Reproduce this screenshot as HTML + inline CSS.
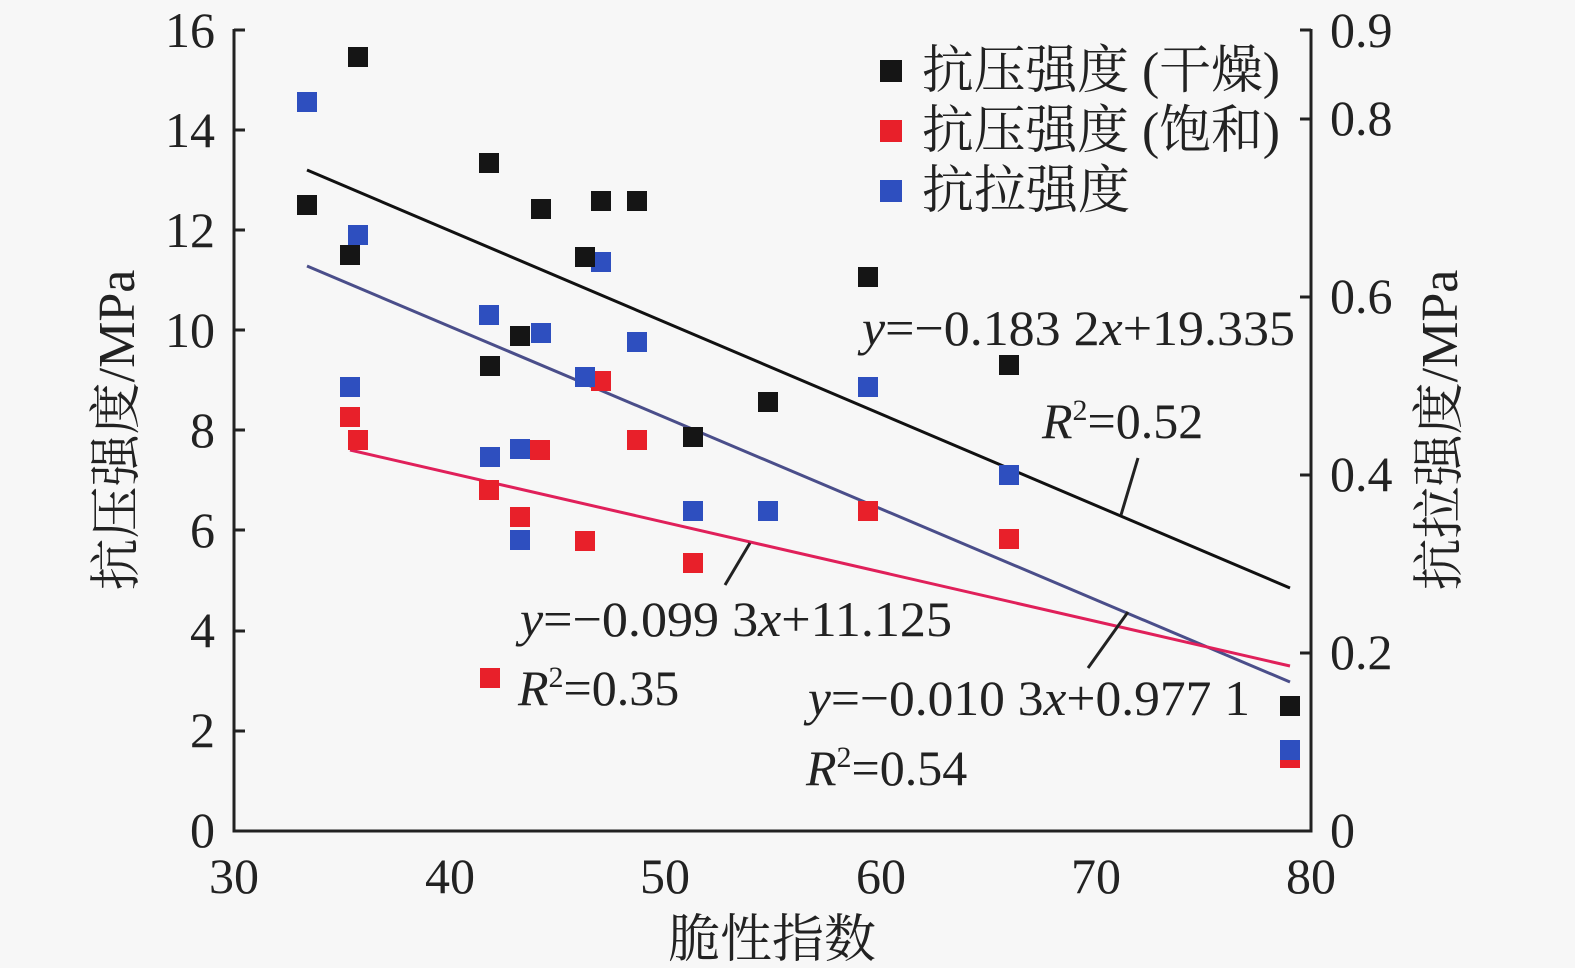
<!DOCTYPE html>
<html><head><meta charset="utf-8"><style>body{margin:0;background:#f7f7f7}svg{display:block}text{font-family:"Liberation Serif","Noto Serif CJK SC",serif;fill:#222}</style></head><body>
<svg width="1575" height="968" viewBox="0 0 1575 968">
<rect width="1575" height="968" fill="#f7f7f7"/>
<g stroke="#222" stroke-width="3" fill="none">
<path d="M234,29V831H1311V29"/>
<path d="M234,731h11M234,631h11M234,530h11M234,430h11M234,330h11M234,230h11M234,130h11M234,30h11"/>
<path d="M1311,653h-11M1311,475h-11M1311,297h-11M1311,119h-11M1311,30h-11"/>
</g>
<g font-size="50" text-anchor="end">
<text x="215" y="47">16</text><text x="215" y="147">14</text><text x="215" y="247">12</text><text x="215" y="347">10</text><text x="215" y="447">8</text><text x="215" y="547">6</text><text x="215" y="647">4</text><text x="215" y="747">2</text><text x="215" y="847">0</text>
</g>
<g font-size="50">
<text x="1330" y="47">0.9</text><text x="1330" y="135">0.8</text><text x="1330" y="313">0.6</text><text x="1330" y="491">0.4</text><text x="1330" y="669">0.2</text><text x="1330" y="847">0</text>
</g>
<g font-size="50" text-anchor="middle">
<text x="234" y="893">30</text><text x="450" y="893">40</text><text x="665" y="893">50</text><text x="881" y="893">60</text><text x="1096" y="893">70</text><text x="1311" y="893">80</text>
<text x="772" y="957" font-size="52">脆性指数</text>
<text transform="translate(134,430) rotate(-90)" font-size="52">抗压强度/MPa</text>
<text transform="translate(1457,430) rotate(-90)" font-size="52">抗拉强度/MPa</text>
</g>
<g stroke-width="3">
<line x1="307" y1="170" x2="1290" y2="588" stroke="#111"/>
<line x1="307" y1="266" x2="1290" y2="682" stroke="#4a4e8a"/>
<line x1="350" y1="450" x2="1290" y2="666" stroke="#e0205a"/>
<g stroke="#222"><line x1="1121" y1="515" x2="1138" y2="458"/><line x1="725" y1="585" x2="750" y2="543"/><line x1="1088" y1="668" x2="1128" y2="612"/></g>
</g>
<g fill="#e8202a">
<rect x="340" y="407" width="20" height="20"/><rect x="348" y="430" width="20" height="20"/><rect x="479" y="480" width="20" height="20"/><rect x="510" y="507" width="20" height="20"/><rect x="530" y="440" width="20" height="20"/><rect x="575" y="531" width="20" height="20"/><rect x="591" y="371" width="20" height="20"/><rect x="627" y="430" width="20" height="20"/><rect x="683" y="553" width="20" height="20"/><rect x="858" y="501" width="20" height="20"/><rect x="999" y="529" width="20" height="20"/><rect x="1280" y="748" width="20" height="20"/><rect x="480" y="668" width="20" height="20"/>
</g>
<g fill="#2e4fbf">
<rect x="297" y="92" width="20" height="20"/><rect x="348" y="225" width="20" height="20"/><rect x="340" y="377" width="20" height="20"/><rect x="479" y="305" width="20" height="20"/><rect x="480" y="447" width="20" height="20"/><rect x="510" y="439" width="20" height="20"/><rect x="510" y="530" width="20" height="20"/><rect x="531" y="323" width="20" height="20"/><rect x="575" y="367" width="20" height="20"/><rect x="591" y="252" width="20" height="20"/><rect x="627" y="332" width="20" height="20"/><rect x="683" y="501" width="20" height="20"/><rect x="758" y="501" width="20" height="20"/><rect x="858" y="377" width="20" height="20"/><rect x="999" y="465" width="20" height="20"/><rect x="1280" y="740" width="20" height="20"/>
</g>
<g fill="#151515">
<rect x="297" y="195" width="20" height="20"/><rect x="348" y="47" width="20" height="20"/><rect x="340" y="245" width="20" height="20"/><rect x="479" y="153" width="20" height="20"/><rect x="480" y="356" width="20" height="20"/><rect x="510" y="326" width="20" height="20"/><rect x="531" y="199" width="20" height="20"/><rect x="575" y="247" width="20" height="20"/><rect x="591" y="191" width="20" height="20"/><rect x="627" y="191" width="20" height="20"/><rect x="683" y="427" width="20" height="20"/><rect x="758" y="392" width="20" height="20"/><rect x="858" y="267" width="20" height="20"/><rect x="999" y="355" width="20" height="20"/><rect x="1280" y="696" width="20" height="20"/>
</g>
<rect x="880" y="60" width="22" height="22" fill="#151515"/>
<rect x="880" y="120" width="22" height="22" fill="#e8202a"/>
<rect x="880" y="180" width="22" height="22" fill="#2e4fbf"/>
<g font-size="52">
<text x="922" y="88" textLength="358" lengthAdjust="spacingAndGlyphs">抗压强度 (干燥)</text>
<text x="922" y="148" textLength="358" lengthAdjust="spacingAndGlyphs">抗压强度 (饱和)</text>
<text x="922" y="208">抗拉强度</text>
</g>
<g font-size="50">
<text x="862" y="345" textLength="433" lengthAdjust="spacingAndGlyphs"><tspan font-style="italic">y</tspan>=−0.183 2<tspan font-style="italic">x</tspan>+19.335</text>
<text x="1042" y="438"><tspan font-style="italic">R</tspan><tspan font-size="30" dy="-18">2</tspan><tspan dy="18">=0.52</tspan></text>
<text x="520" y="636" textLength="432" lengthAdjust="spacingAndGlyphs"><tspan font-style="italic">y</tspan>=−0.099 3<tspan font-style="italic">x</tspan>+11.125</text>
<text x="518" y="705"><tspan font-style="italic">R</tspan><tspan font-size="30" dy="-18">2</tspan><tspan dy="18">=0.35</tspan></text>
<text x="808" y="715" textLength="442" lengthAdjust="spacingAndGlyphs"><tspan font-style="italic">y</tspan>=−0.010 3<tspan font-style="italic">x</tspan>+0.977 1</text>
<text x="806" y="785"><tspan font-style="italic">R</tspan><tspan font-size="30" dy="-18">2</tspan><tspan dy="18">=0.54</tspan></text>
</g>
</svg>
</body></html>
